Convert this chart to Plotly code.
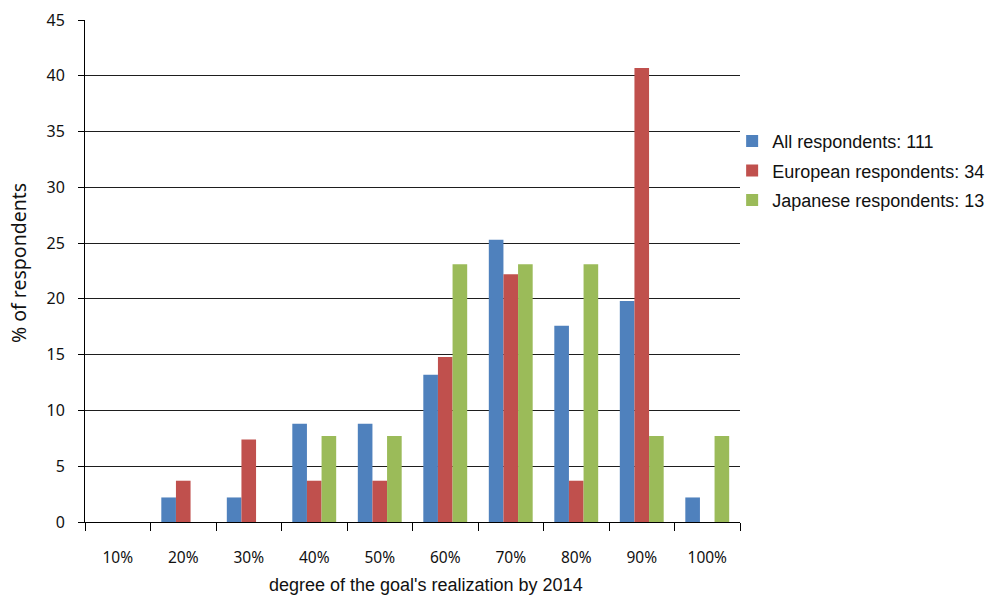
import plotly.graph_objects as go

categories = ["10%", "20%", "30%", "40%", "50%", "60%", "70%", "80%", "90%", "100%"]
all_resp = [0, 2.2, 2.2, 8.8, 8.8, 13.2, 25.3, 17.6, 19.8, 2.2]
european = [0, 3.7, 7.4, 3.7, 3.7, 14.8, 22.2, 3.7, 40.7, 0]
japanese = [0, 0, 0, 7.7, 7.7, 23.1, 23.1, 23.1, 7.7, 7.7]

series_names = ["All respondents: 111", "European respondents: 34", "Japanese respondents: 13"]
series_values = [all_resp, european, japanese]
colors = ["#4F81BD", "#C0504D", "#9BBB59"]

fig = go.Figure()
for i, (name, vals, col) in enumerate(zip(series_names, series_values, colors)):
    fig.add_trace(go.Bar(
        x=categories, y=vals, name=name, legendgroup=f"g{i}",
        marker=dict(color=col, line=dict(width=0)),
    ))

fig.update_layout(
    width=986, height=598,
    margin=dict(l=85, r=246, t=20, b=76, autoexpand=False),
    paper_bgcolor="white", plot_bgcolor="white",
    barmode="group", bargap=0.33, bargroupgap=0,
    showlegend=True,
    legend=dict(
        x=0.988, y=0.795, xanchor="left", yanchor="top",
        font=dict(family="Liberation Sans, Arial, sans-serif", size=18, color="#111"),
        traceorder="grouped", tracegroupgap=3,
        itemwidth=30, bgcolor="rgba(0,0,0,0)",
    ),
    xaxis=dict(
        type="category", showline=True, linecolor="black", linewidth=1,
        ticks="outside", tickson="boundaries", ticklen=8, tickcolor="black",
        showgrid=False,
        tickfont=dict(family="Noto Sans, sans-serif", size=15.5, color="#111"),
        ticklabelstandoff=21,
    ),
    yaxis=dict(
        range=[0, 45], dtick=5, showline=True, linecolor="black", linewidth=1,
        ticks="outside", ticklen=6, tickcolor="black",
        showgrid=True, gridcolor="#1e1e1e", gridwidth=1,
        zeroline=False,
        tickfont=dict(family="Noto Sans, sans-serif", size=16, color="#111"),
        ticklabelstandoff=10,
    ),
    annotations=[
        dict(text="% of respondents", xref="paper", yref="paper",
             x=(18 - 85) / 655, y=(522 - 263) / 502, xanchor="center", yanchor="middle",
             textangle=-90, showarrow=False,
             font=dict(family="Noto Sans, sans-serif", size=19.5, color="#111")),
        dict(text="degree of the goal's realization by 2014", xref="paper", yref="paper",
             x=(426 - 85) / 655, y=-(585 - 522) / 502, xanchor="center", yanchor="middle",
             showarrow=False,
             font=dict(family="Liberation Sans, Arial, sans-serif", size=18, color="#111")),
    ],
)

fig.write_html("out.html", config={"displayModeBar": False},
               post_script="document.body.style.margin='0';document.body.style.padding='0';")
